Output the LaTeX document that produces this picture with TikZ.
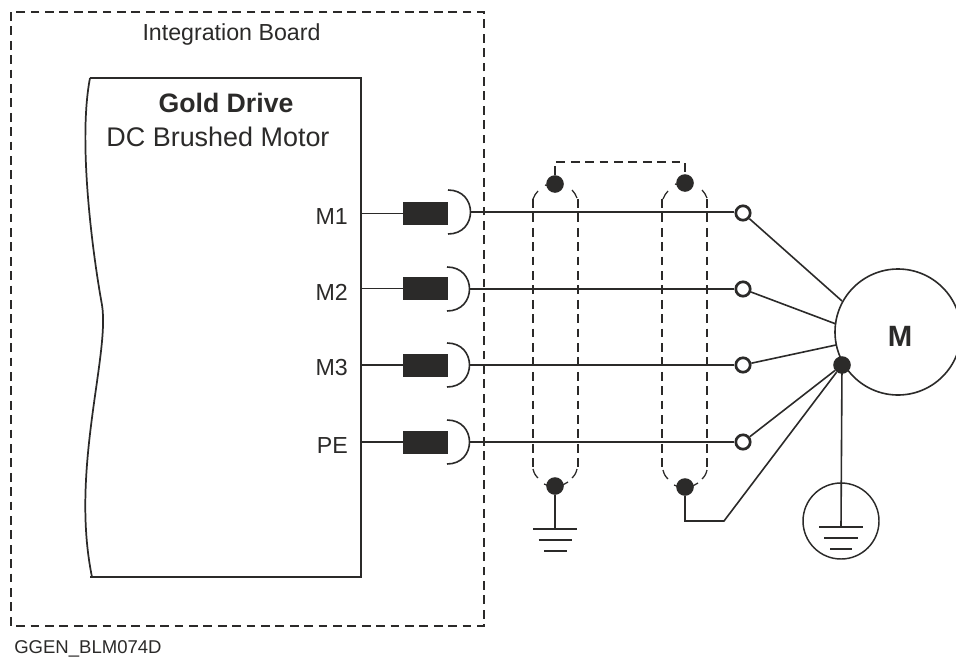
\documentclass[tikz,border=0pt]{standalone}
\usepackage{fontspec}
\setmainfont{Liberation Sans}
\definecolor{ink}{HTML}{2B2A29}
\tikzset{
  wire/.style={draw=ink,line width=1.2pt},
  thin wire/.style={draw=ink,line width=0.95pt},
  dashline/.style={draw=ink,line width=1.05pt,dash pattern=on 6.6pt off 4.2pt},
  dot/.style={circle,fill=ink,minimum size=13.2pt,inner sep=0pt},
  term/.style={circle,draw=ink,fill=white,line width=2pt,minimum size=10.8pt,inner sep=0pt},
  choke/.style={rectangle,fill=ink,minimum width=33.75pt,minimum height=17.25pt,inner sep=0pt},
  lbl/.style={text=ink,inner sep=0pt,font=\fontsize{17.4pt}{20pt}\selectfont},
}
\begin{document}
\begin{tikzpicture}[x=0.75pt,y=-0.75pt]
\useasboundingbox (0,0) rectangle (956,664);
% board
\coordinate (b1) at (11,12); \coordinate (b2) at (484,626);
\draw[dashline] (b1) rectangle (b2);
% drive
\coordinate (d1) at (90,78); \coordinate (d2) at (361,78);
\coordinate (d3) at (361,577); \coordinate (d4) at (90,577);
\draw[draw=ink,line width=1.5pt] (d1) -- (d2) -- (d3) -- (d4);
\draw[draw=ink,line width=1.3pt] (d1) .. controls (78,140) and (92,250) .. (102,305)
  .. controls (110,355) and (70,470) .. (92,577);
% texts
\node[lbl,font=\fontsize{17.4pt}{20pt}\selectfont] (title) at (231.5,34) {Integration Board};
\node[lbl,font=\fontsize{20pt}{24pt}\bfseries\selectfont] (gold) at (226,103) {Gold Drive};
\node[lbl,font=\fontsize{20.2pt}{24pt}\selectfont] (dc) at (218,137) {DC Brushed Motor};
\node[lbl,anchor=east] (m1) at (348,217) {M1};
\node[lbl,anchor=east] (m2) at (348,292) {M2};
\node[lbl,anchor=east] (m3) at (348,368) {M3};
\node[lbl,anchor=east] (pe) at (348,446) {PE};
\node[text=ink,inner sep=0pt,anchor=west,font=\fontsize{13.9pt}{16pt}\selectfont] (code) at (14,649) {GGEN\_BLM074D};
% shields
\foreach \x in {533,578,662,707}{\draw[dashline] (\x,199) -- (\x,471);}
\foreach \cx/\ty/\by in {555/184/486,685/183/487}{
  \draw[thin wire] (\cx-22,199) .. controls (\cx-21,196) and (\cx-19,193) .. (\cx-17,191);
  \draw[thin wire] (\cx+22,198) .. controls (\cx+21,195) and (\cx+19,192) .. (\cx+17,190);
  \draw[thin wire] (\cx-22,\by-17) .. controls (\cx-21,\by-13) and (\cx-20,\by-11) .. (\cx-17,\by-8);
  \draw[thin wire] (\cx+22,\by-17) .. controls (\cx+21,\by-13) and (\cx+20,\by-11) .. (\cx+17,\by-8);
  \draw[thin wire] (\cx-11,\by-2) -- (\cx-6,\by);
  \draw[thin wire] (\cx+13,\by-4) -- (\cx+6,\by);
  \draw[thin wire] (\cx-10,\ty+1) -- (\cx-6,\ty+2);
}
% chokes and wires
\node[choke] (c1) at (425.5,213.5) {};
\node[choke] (c2) at (425.5,288.5) {};
\node[choke] (c3) at (425.5,365) {};
\node[choke] (c4) at (425.5,442) {};
\node[term] (t1) at (743,213) {};
\node[term] (t2) at (743,289) {};
\node[term] (t3) at (743,365) {};
\node[term] (t4) at (743,442) {};
\foreach \i/\y/\ya/\xa in {1/213.5/212/448,2/288.5/289/447,3/365/365/447,4/442/442/447}{
  \draw[wire] (361,\y) -- (c\i.west);
  \draw[wire] (\xa,\ya-22) .. controls (\xa+30,\ya-22) and (\xa+30,\ya+22) .. (\xa,\ya+22);
  \coordinate (w\i) at (\xa+23,\ya);
  \draw[wire] (w\i) -- (w\i -| t\i.west);
}
% motor
\node[circle,draw=ink,fill=white,line width=1.2pt,minimum size=94.5pt,inner sep=0pt] (mot) at (898,332) {};
\node[text=ink,inner sep=0pt,font=\fontsize{22pt}{26pt}\bfseries\selectfont] (mlab) at (900,336) {M};
\node[dot] (star) at (842,365) {};
\coordinate (p1) at (842,301); \coordinate (p2) at (836,324); \coordinate (p3) at (836,345);
\draw[wire] (t1) -- (p1);
\draw[wire] (t2) -- (p2);
\draw[wire] (t3) -- (p3);
\draw[wire] (t4) -- (star);
% shield dots
\node[dot] (s1t) at (555,184) {};
\node[dot] (s2t) at (685,183) {};
\node[dot] (s1b) at (555,486) {};
\node[dot] (s2b) at (685,487) {};
% shield bridge
\coordinate (j1) at (555,162); \coordinate (j2) at (685,162);
\draw[dashline] (s1t.north) -- (j1) -- (j2) -- (s2t.north);
% shield 1 ground
\coordinate (g1) at (555,529);
\draw[wire] (s1b) -- (g1);
\draw[wire] (533,529) -- (577,529) (538.5,540) -- (572,540) (544,551) -- (567,551);
% shield 2 to motor
\coordinate (k1) at (685,521); \coordinate (k2) at (724,521);
\draw[wire] (s2b) -- (k1) -- (k2) -- (star);
% earth
\coordinate (g2) at (841,527);
\draw[wire] (star.center) -- (g2);
\node[circle,draw=ink,line width=1.1pt,minimum size=57pt,inner sep=0pt] (earth) at (841,521) {};
\draw[wire] (819,527) -- (863,527) (824,538) -- (858,538) (830,549) -- (852,549);
\end{tikzpicture}
\end{document}
